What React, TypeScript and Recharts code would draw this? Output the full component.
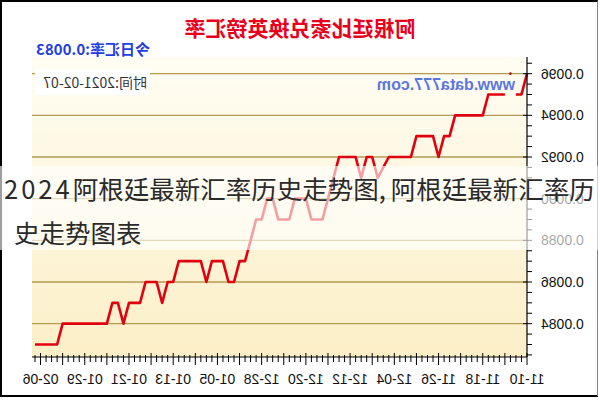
import React from 'react';
import { LineChart, Line, XAxis, YAxis, CartesianGrid, ReferenceLine } from 'recharts';

const dates = [
  '11-10','11-11','11-12','11-13','11-14','11-15','11-16','11-17','11-18','11-19','11-20','11-21','11-22','11-23','11-24','11-25','11-26','11-27','11-28','11-29','11-30',
  '12-01','12-02','12-03','12-04','12-05','12-06','12-07','12-08','12-09','12-10','12-11','12-12','12-13','12-14','12-15','12-16','12-17','12-18','12-19','12-20','12-21','12-22','12-23','12-24','12-25','12-26','12-27','12-28','12-29','12-30','12-31',
  '01-01','01-02','01-03','01-04','01-05','01-06','01-07','01-08','01-09','01-10','01-11','01-12','01-13','01-14','01-15','01-16','01-17','01-18','01-19','01-20','01-21','01-22','01-23','01-24','01-25','01-26','01-27','01-28','01-29','01-30','01-31',
  '02-01','02-02','02-03','02-04','02-05','02-06','02-07',
];

const rates: (number | null)[] = [
  0.0096, 0.0095, 0.0095, null, 0.0095, 0.0095, 0.0095, 0.0095, 0.0094, 0.0094,
  0.0094, 0.0094, 0.0094, 0.0094, 0.0093, 0.0093, 0.0092, 0.0093, 0.0093, 0.0093,
  0.0093, 0.0092, 0.0092, 0.0092, 0.0092, 0.0092, 0.00915, 0.0091, 0.0092, 0.0092,
  0.0091, 0.0092, 0.0092, 0.0092, 0.0092, 0.0091, 0.0090, 0.0089, 0.0089, 0.0089,
  0.0090, 0.0090, 0.0090, 0.0089, 0.0089, 0.0089, 0.0090, 0.0090, 0.0089, 0.0089,
  0.0088, 0.0087, 0.0087, 0.0086, 0.0086, 0.0087, 0.0087, 0.0087, 0.0086, 0.0087,
  0.0087, 0.0087, 0.0087, 0.0087, 0.0086, 0.0086, 0.0085, 0.0086, 0.0086, 0.0086,
  0.0085, 0.0085, 0.0085, 0.0084, 0.0085, 0.0085, 0.0084, 0.0084, 0.0084, 0.0084,
  0.0084, 0.0084, 0.0084, 0.0084, 0.0084, 0.0083, 0.0083, 0.0083, 0.0083, 0.0083,
];

const spotDate = '11-13';
const spotRate = 0.0096;

const xTickLabels = ['11-10','11-18','11-26','12-04','12-12','12-20','12-28','01-05','01-13','01-21','01-29','02-06'];
const xMidTicks = ['11-14','11-22','11-30','12-08','12-16','12-24','01-01','01-09','01-17','01-25','02-02'];

const yMajorTicks = [0.0084, 0.0086, 0.0088, 0.009, 0.0092, 0.0094, 0.0096];
const yLabels = ['0.0084', '0.0086', '0.0088', '0.0090', '0.0092', '0.0094', '0.0096'];
const yAllTicks = [
  0.00825, 0.0083, 0.00835, 0.0084, 0.00845, 0.0085, 0.00855, 0.0086, 0.00865, 0.0087,
  0.00875, 0.0088, 0.00885, 0.0089, 0.00895, 0.009, 0.00905, 0.0091, 0.00915, 0.0092,
  0.00925, 0.0093, 0.00935, 0.0094, 0.00945, 0.0095, 0.00955, 0.0096, 0.00965,
];
const yDomain = [0.00824, 0.00968];

const title = '阿根廷比索兑换英镑汇率';
const todayText = '今日汇率:0.0083';
const timeText = '时间:2021-02-07';
const watermark = 'www.data777.com';
const overlayYear = '2024';
const overlayPartA = '阿根廷最新汇率历史走势图';
const overlayComma = ',';
const overlayPartB = '阿根廷最新汇率历';
const overlayLine2 = '史走势图表';

const tableData = dates.map((d, i) => ({
  date: d,
  rate: rates[i],
  spot: d === spotDate ? spotRate : null,
}));

const AXIS_FONT = '"Liberation Sans", Arial, sans-serif';
const CJK_FONT = '"Noto Sans CJK SC", "Noto Sans", sans-serif';

const majorIndex = (v: number) => yMajorTicks.findIndex((m) => Math.abs(m - v) < 1e-10);

const BottomTick = (props: any) => {
  const { x, y, payload } = props;
  const v = payload.value;
  const isLabel = xTickLabels.includes(v);
  const isLong = isLabel || xMidTicks.includes(v);
  return (
    <g>
      <line x1={x} x2={x} y1={isLong ? y - 4 : y - 2} y2={isLong ? y + 8 : y + 5} stroke="#000" strokeWidth={1} />
      {isLabel && (
        <text x={x} y={y + 27} textAnchor="middle" fontSize={14} fontFamily={AXIS_FONT} fill="#111">
          {v}
        </text>
      )}
    </g>
  );
};

const TopTick = (props: any) => {
  const { x, y, payload } = props;
  const v = payload.value;
  const isLong = xTickLabels.includes(v) || xMidTicks.includes(v);
  return <line x1={x} x2={x} y1={y} y2={isLong ? y + 6 : y + 3} stroke="#000" strokeWidth={1} />;
};

const LeftTick = (props: any) => {
  const { x, y, payload } = props;
  const idx = majorIndex(payload.value);
  const major = idx >= 0;
  return (
    <g>
      <line x1={x - 5} x2={major ? x + 4 : x} y1={y} y2={y} stroke="#000" strokeWidth={1} />
      {major && (
        <text x={x - 14} y={y + 5} textAnchor="end" fontSize={14} fontFamily={AXIS_FONT} fill="#111">
          {yLabels[idx]}
        </text>
      )}
    </g>
  );
};

const RightTick = (props: any) => {
  const { x, y, payload } = props;
  const major = majorIndex(payload.value) >= 0;
  return <line x1={major ? x - 6 : x - 3} x2={x} y1={y} y2={y} stroke="#000" strokeWidth={1} />;
};

export default function App() {
  return (
    <div style={{ position: 'absolute', left: 0, top: 0, width: 600, height: 400, overflow: 'hidden', background: '#fff' }}>
      <div style={{ position: 'absolute', left: 0, top: 0, width: 600, height: 400, transform: 'scaleX(-1)' }}>
        <LineChart
          width={600}
          height={400}
          data={tableData}
          margin={{ top: 57, right: 32, bottom: 13, left: 13 }}
        >
          <defs>
            <linearGradient id="plotBg" x1="0" y1="0" x2="0" y2="1">
              <stop offset="0%" stopColor="#fffdf3" />
              <stop offset="100%" stopColor="#fcefc7" />
            </linearGradient>
          </defs>
          <CartesianGrid horizontal={false} vertical={false} fill="url(#plotBg)" fillOpacity={1} />
          {yMajorTicks.map((v) => (
            <ReferenceLine key={v} y={v} stroke="#b49b52" strokeWidth={1.3} />
          ))}
          <XAxis
            dataKey="date"
            type="category"
            interval={0}
            height={30}
            padding={{ left: 0, right: 3 }}
            tickSize={0}
            tickMargin={0}
            tickLine={false}
            axisLine={{ stroke: '#000', strokeWidth: 1 }}
            tick={BottomTick}
          />
          <XAxis
            xAxisId="top"
            orientation="top"
            dataKey="date"
            type="category"
            interval={0}
            height={0}
            padding={{ left: 0, right: 3 }}
            tickSize={0}
            tickMargin={0}
            tickLine={false}
            axisLine={{ stroke: '#000', strokeWidth: 1 }}
            tick={TopTick}
          />
          <YAxis
            type="number"
            domain={yDomain}
            ticks={yAllTicks}
            interval={0}
            width={60}
            tickSize={0}
            tickMargin={0}
            tickLine={false}
            axisLine={{ stroke: '#000', strokeWidth: 1.2 }}
            tick={LeftTick}
          />
          <YAxis
            yAxisId="right"
            orientation="right"
            type="number"
            domain={yDomain}
            ticks={yAllTicks}
            interval={0}
            width={0}
            tickSize={0}
            tickMargin={0}
            tickLine={false}
            axisLine={{ stroke: '#000', strokeWidth: 1 }}
            tick={RightTick}
          />
          <Line
            xAxisId="top"
            yAxisId="right"
            dataKey="rate"
            stroke="none"
            dot={false}
            activeDot={false}
            legendType="none"
            isAnimationActive={false}
          />
          <Line
            type="linear"
            dataKey="rate"
            stroke="#e0000f"
            strokeWidth={2.6}
            strokeLinejoin="round"
            dot={false}
            activeDot={false}
            connectNulls={false}
            isAnimationActive={false}
          />
          <Line
            type="linear"
            dataKey="spot"
            stroke="none"
            dot={{ r: 1.3, fill: '#b0101a', stroke: 'none' }}
            activeDot={false}
            isAnimationActive={false}
          />
        </LineChart>

        <div style={{ position: 'absolute', left: 0, top: 14, width: 600, height: 26, lineHeight: '26px', textAlign: 'center', fontFamily: CJK_FONT, fontSize: 21, fontWeight: 'bold', color: '#e8001c' }}>
          {title}
        </div>
        <div style={{ position: 'absolute', right: 36, top: 40, lineHeight: '18px', fontFamily: CJK_FONT, fontSize: 15, fontWeight: 'bold', color: '#1f3de0', whiteSpace: 'nowrap' }}>
          {todayText}
        </div>
        <div style={{ position: 'absolute', left: 450, top: 69, width: 115, height: 26, lineHeight: '26px', background: '#fff', fontFamily: CJK_FONT, fontSize: 14, color: '#333', paddingLeft: 3, boxSizing: 'border-box', whiteSpace: 'nowrap' }}>
          {timeText}
        </div>
        <div style={{ position: 'absolute', left: 85, top: 77, lineHeight: '16px', fontFamily: AXIS_FONT, fontSize: 16, fontWeight: 'bold', color: '#3f5fe0', opacity: 0.85, whiteSpace: 'nowrap' }}>
          {watermark}
        </div>
      </div>

      <div style={{ position: 'absolute', left: 0, top: 0, width: 598, height: 397, boxSizing: 'border-box', borderLeft: '2px solid #000', borderTop: '2px solid #000', borderBottom: '2px solid #000', borderRight: '1px solid #888', pointerEvents: 'none' }} />

      <div style={{ position: 'absolute', left: 0, top: 166, width: 600, height: 84, background: 'rgba(255,255,255,0.62)' }} />
      <div style={{ position: 'absolute', left: 4, top: 167, lineHeight: '42px', fontFamily: CJK_FONT, fontSize: 25.5, color: '#2a2a2a', whiteSpace: 'nowrap' }}>
        <span style={{ letterSpacing: 3 }}>{overlayYear}</span>
        {overlayPartA}
        <span style={{ letterSpacing: 5 }}>{overlayComma}</span>
        {overlayPartB}
      </div>
      <div style={{ position: 'absolute', left: 14, top: 211, lineHeight: '42px', fontFamily: CJK_FONT, fontSize: 25.5, color: '#2a2a2a', whiteSpace: 'nowrap' }}>
        {overlayLine2}
      </div>
    </div>
  );
}
